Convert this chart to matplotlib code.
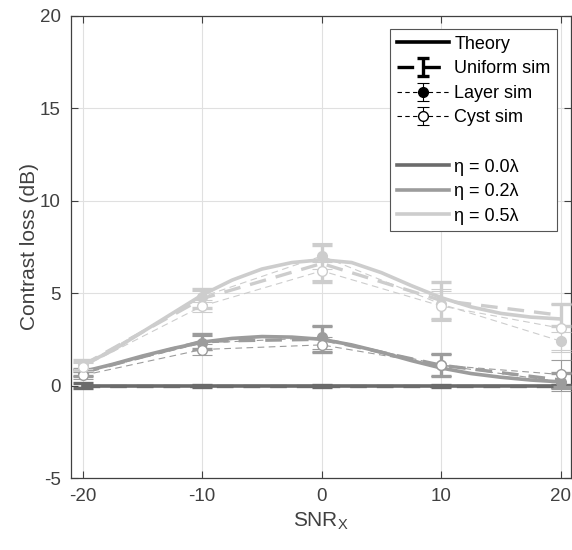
import numpy as np
import matplotlib
matplotlib.use("Agg")
import matplotlib.pyplot as plt

plt.rcParams['font.family'] = ['Liberation Sans', 'DejaVu Sans']
plt.rcParams['axes.unicode_minus'] = False

# SNR values where simulations were run
snr = [-20, -10, 0, 10, 20]
# finer grid for theory curves
snr_theory = [-20, -17.5, -15, -12.5, -10, -7.5, -5, -2.5, 0, 2.5, 5, 7.5, 10, 12.5, 15, 17.5, 20]

etas = ["η = 0.0λ", "η = 0.2λ", "η = 0.5λ"]
colors = ["#6b6b6b", "#9c9c9c", "#cdcdcd"]

theory = [
    [0.0] * 17,
    [0.75, 1.15, 1.6, 2.0, 2.35, 2.55, 2.65, 2.62, 2.5, 2.2, 1.8, 1.35, 0.95, 0.65, 0.45, 0.3, 0.2],
    [1.1, 1.9, 2.9, 3.9, 4.9, 5.7, 6.3, 6.65, 6.8, 6.65, 6.1, 5.4, 4.75, 4.25, 3.9, 3.7, 3.6],
]

uniform = [
    [0.0, 0.0, 0.0, 0.0, 0.0],
    [0.7, 2.4, 2.5, 1.1, 0.3],
    [1.1, 4.7, 6.6, 4.6, 3.8],
]
uniform_err = [
    [0.15, 0.05, 0.05, 0.05, 0.05],
    [0.2, 0.4, 0.7, 0.6, 0.4],
    [0.3, 0.5, 1.0, 1.0, 0.6],
]

layer = [
    None,
    [0.7, 2.3, 2.6, 1.1, 0.2],
    [1.1, 4.8, 7.0, 4.4, 2.4],
]
layer_err = [
    None,
    [0.2, 0.4, 0.6, 0.6, 0.5],
    [0.2, 0.3, 0.7, 0.8, 0.5],
]

cyst = [
    None,
    [0.55, 1.95, 2.2, 1.1, 0.6],
    [1.0, 4.3, 6.2, 4.3, 3.1],
]
cyst_err = [
    None,
    [0.2, 0.3, 0.4, 0.6, 0.8],
    [0.2, 0.3, 0.5, 0.8, 1.3],
]

txt = "#404040"

fig = plt.figure(figsize=(5.72, 5.5), dpi=100)
ax = fig.add_axes([0.1236, 0.1307, 0.8747, 0.8411])

for i in range(3):
    c = colors[i]
    ax.plot(snr_theory, theory[i], color=c, lw=2.6, zorder=3)
    ax.errorbar(snr, uniform[i], yerr=uniform_err[i], color=c, lw=2.4,
                dashes=(5, 3), capsize=7.5, capthick=2.4, elinewidth=2.4, zorder=3)
    if layer[i] is None:
        continue
    ax.errorbar(snr, layer[i], yerr=layer_err[i], color=c, lw=0.8, dashes=(6, 4),
                marker='o', ms=7, mfc=c, mec=c, capsize=7.5, capthick=0.8,
                elinewidth=0.8, zorder=4)
    ax.errorbar(snr, cyst[i], yerr=cyst_err[i], color=c, lw=0.8, dashes=(6, 4),
                marker='o', ms=7, mfc='white', mec=c, capsize=7.5, capthick=0.8,
                elinewidth=0.8, zorder=5)

# legend proxies
h_theory, = ax.plot([], [], color='black', lw=2.6)
h_uni = ax.errorbar([np.nan], [np.nan], yerr=[1], color='black', lw=2.4, dashes=(5, 3),
                    capsize=4, capthick=2.4, elinewidth=2.4)
h_layer = ax.errorbar([np.nan], [np.nan], yerr=[1], color='black', lw=0.8, dashes=(4, 3),
                      marker='o', ms=7, mfc='black', capsize=4, capthick=0.8)
h_cyst = ax.errorbar([np.nan], [np.nan], yerr=[1], color='black', lw=0.8, dashes=(4, 3),
                     marker='o', ms=7, mfc='white', mec='black', capsize=4, capthick=0.8)
h_blank, = ax.plot([], [], color='none')
h_eta = [ax.plot([], [], color=c, lw=2.6)[0] for c in colors]

leg = ax.legend([h_theory, h_uni, h_layer, h_cyst, h_blank] + h_eta,
                ["Theory", "Uniform sim", "Layer sim", "Cyst sim", " "] + etas,
                loc='upper right', bbox_to_anchor=(0.972, 0.97), fontsize=13,
                handlelength=2.9, handletextpad=0.3, labelspacing=0.42,
                borderaxespad=0, borderpad=0.35, fancybox=False, framealpha=1,
                edgecolor='#555555')
leg.get_frame().set_linewidth(0.8)
leg.set_zorder(10)

ax.set_xlim(-21, 20.85)
ax.set_ylim(-5, 20)
ax.set_xticks([-20, -10, 0, 10, 20])
ax.set_yticks([-5, 0, 5, 10, 15, 20])
ax.grid(True, color='#e0e0e0', lw=0.8)
ax.set_axisbelow(True)
ax.tick_params(direction='in', length=5, width=0.8, colors=txt, labelsize=13.5,
               top=True, right=True, pad=7)
for s in ax.spines.values():
    s.set_color(txt)
    s.set_linewidth(0.9)

ax.set_xlabel("SNR$_\\mathregular{X}$", fontsize=15, color=txt, labelpad=4)
ax.set_ylabel("Contrast loss (dB)", fontsize=15, color=txt, labelpad=1)

fig.savefig("out.png", dpi=100)
